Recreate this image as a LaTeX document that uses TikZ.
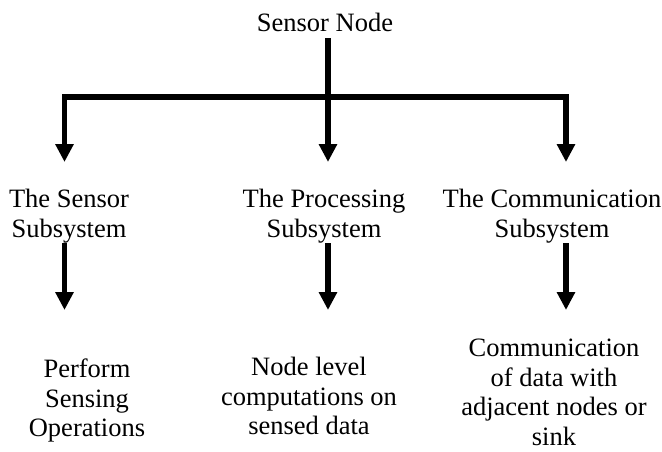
\documentclass[tikz,border=0pt]{standalone}
\usepackage{fontspec}
\setmainfont{Liberation Serif}
\usepackage{tikz}
\usetikzlibrary{arrows.meta,positioning}

\begin{document}
\begin{tikzpicture}[x=1pt,y=1pt,font=\fontsize{26.5pt}{29.5pt}\selectfont,
    lbl/.style={inner sep=0pt,align=center},
    flow/.style={line width=5.5pt,-{Triangle[length=18pt,width=17.5pt]}}]
    \useasboundingbox (0,0) rectangle (662,-452);

    % top node and the three subsystems
    \node[lbl,anchor=base] (sensor) at (325,-32) {Sensor Node};
    \node[lbl,anchor=north] (sensub) at (69,-189) {The Sensor\\Subsystem};
    \node[lbl,anchor=north] (procsub) at (324,-189) {The Processing\\Subsystem};
    \node[lbl,anchor=north] (commsub) at (552,-189) {The Communication\\Subsystem};

    % what each subsystem does
    \node[lbl,anchor=north] (perform) at (87,-359) {Perform\\Sensing\\Operations};
    \node[lbl,anchor=north] (compute) at (309,-357) {Node level\\computations on\\sensed data};
    \node[lbl,anchor=north] (commdata) at (554,-339) {Communication\\of data with\\adjacent nodes or\\sink};

    % arrow columns and tip rows
    \coordinate (jL) at (64.5,-97);
    \coordinate (jM) at (328,-97);
    \coordinate (jR) at (566,-97);
    \coordinate (tipUp) at (0,-162);
    \coordinate (tipLow) at (0,-310);

    \draw[flow,shorten <=6pt] (sensor.south -| jM) -- (jM |- tipUp);
    \draw[flow] (jM) -| (jL |- tipUp);
    \draw[flow] (jM) -| (jR |- tipUp);

    \draw[flow] (sensub.south -| jL) -- (jL |- tipLow);
    \draw[flow] (procsub.south -| jM) -- (jM |- tipLow);
    \draw[flow] (commsub.south -| jR) -- (jR |- tipLow);
  \end{tikzpicture}
\end{document}
